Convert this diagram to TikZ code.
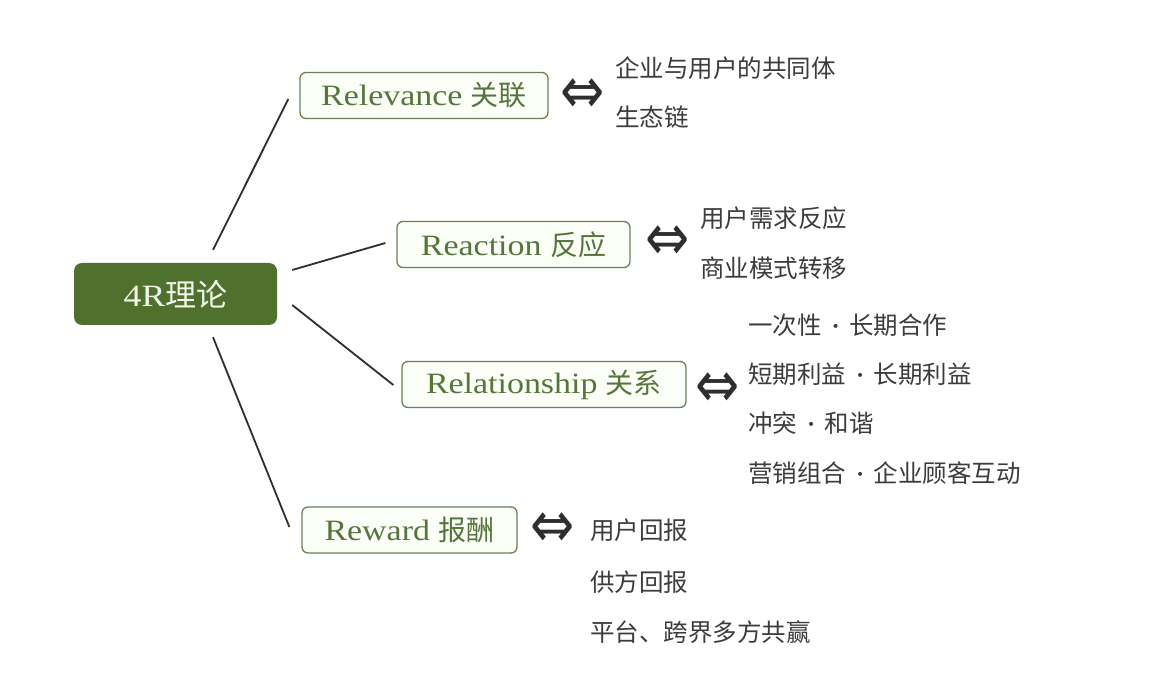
\documentclass[tikz,border=0pt]{standalone}
\usepackage{fontspec}
\setmainfont{Liberation Serif}
\newfontfamily\cjk{Noto Sans CJK SC}
\newfontfamily\lat[FakeStretch=1.15]{Liberation Serif}
\newfontfamily\symf{DejaVu Sans}
\usetikzlibrary{calc}
\definecolor{boxline}{HTML}{6A8256}
\definecolor{boxfill}{HTML}{FCFEF8}
\definecolor{boxtext}{HTML}{55763A}
\definecolor{rootfill}{HTML}{50702E}
\definecolor{roottext}{HTML}{F2F6EA}
\definecolor{itemtext}{HTML}{3C3C3C}
\definecolor{linkcol}{HTML}{2E2E2E}
\newcommand{\md}{\hspace{0.4em}{\rmfamily\bfseries ·}\hspace{0.4em}}
\begin{document}
\begin{tikzpicture}[x=1pt,y=-1pt,
  rootbox/.style={rounded corners=8pt, fill=rootfill, minimum width=203pt, minimum height=62pt,
    inner sep=0pt, text=roottext, font=\fontsize{31}{33}\selectfont},
  branchbox/.style={draw=boxline, line width=1.3pt, rounded corners=6pt, fill=boxfill,
    text=boxtext, minimum height=46pt, inner sep=0pt, font=\fontsize{29.5}{32}\selectfont},
  item/.style={anchor=west, inner sep=0pt, text=itemtext, font=\cjk\fontsize{24.5}{26}\selectfont},
  dbl/.style={inner sep=0pt, text=linkcol, font=\symf\fontsize{44}{44}\selectfont},
  link/.style={draw=linkcol, line width=1.8pt}]
\useasboundingbox[fill=white] (0,0) rectangle (1164,684);

\node[rootbox] (c) at (175.5,294) {{\lat 4R}{\cjk 理论}};

\node[branchbox, minimum width=248pt] (rel) at (424,95.5) {{\lat Relevance }{\cjk\fontsize{28}{30}\selectfont 关联}};
\node[branchbox, minimum width=233pt] (rea) at (513.5,244.5) {{\lat Reaction }{\cjk\fontsize{28}{30}\selectfont 反应}};
\node[branchbox, minimum width=284pt] (rsh) at (544,384.5) {{\lat Relationship }{\cjk\fontsize{28}{30}\selectfont 关系}};
\node[branchbox, minimum width=215pt] (rew) at (409.5,530) {{\lat Reward }{\cjk\fontsize{28}{30}\selectfont 报酬}};

\draw[link] ($(c.north)+(37.5,-13)$) -- ($(rel.west)+(-11,3.5)$);
\draw[link] ($(c.east)+(15,-24)$) -- ($(rea.west)+(-11,-1.5)$);
\draw[link] ($(c.east)+(15,11)$) -- ($(rsh.west)+(-8,0.5)$);
\draw[link] ($(c.south)+(37.5,12)$) -- ($(rew.west)+(-12,-3)$);

\node[dbl] (a1) at (583,96) {\scalebox{1.2}[1.5]{⇔}};
\node[dbl] (a2) at (668,243) {\scalebox{1.2}[1.5]{⇔}};
\node[dbl] (a3) at (718,390) {\scalebox{1.2}[1.5]{⇔}};
\node[dbl] (a4) at (553,530) {\scalebox{1.2}[1.5]{⇔}};

\node[item] (t11) at (615,68) {企业与用户的共同体};
\node[item] (t12) at (615,117) {生态链};

\node[item] (t21) at (700,218) {用户需求反应};
\node[item] (t22) at (700,268) {商业模式转移};

\node[item] (t31) at (748,325) {一次性\md 长期合作};
\node[item] (t32) at (748,374) {短期利益\md 长期利益};
\node[item] (t33) at (748,423) {冲突\md 和谐};
\node[item] (t34) at (748,473) {营销组合\md 企业顾客互动};

\node[item] (t41) at (590,530) {用户回报};
\node[item] (t42) at (590,582) {供方回报};
\node[item] (t43) at (590,632) {平台、跨界多方共赢};
\end{tikzpicture}
\end{document}
